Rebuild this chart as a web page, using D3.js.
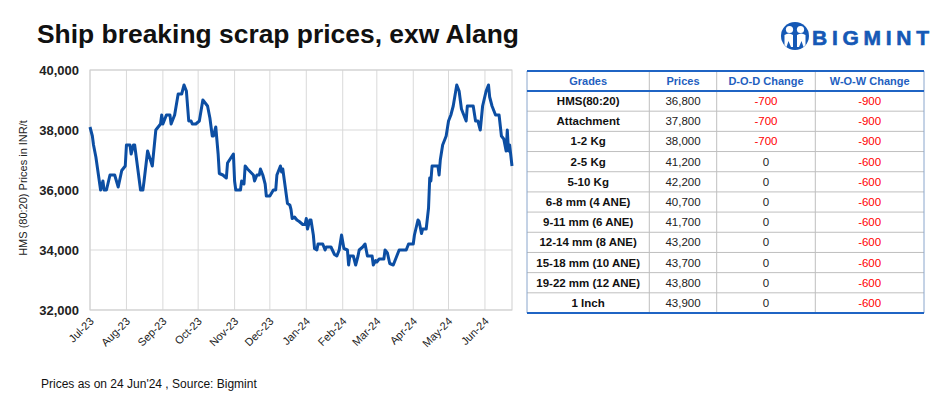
<!DOCTYPE html>
<html><head><meta charset="utf-8">
<script src="https://cdn.jsdelivr.net/npm/d3@7"></script>
<style>
html,body{margin:0;padding:0;background:#fff;}
svg{display:block;font-family:"Liberation Sans",Arial,sans-serif;}
</style></head>
<body><svg id="c" width="934" height="399"></svg>
<script>
const dates = ["2023-07-01","2023-07-03","2023-07-04","2023-07-06","2023-07-10","2023-07-12","2023-07-13","2023-07-15","2023-07-18","2023-07-22","2023-07-25","2023-07-28","2023-07-31",
"2023-08-01","2023-08-04","2023-08-05","2023-08-07","2023-08-08","2023-08-13","2023-08-15","2023-08-16","2023-08-19","2023-08-23","2023-08-26","2023-08-30","2023-08-31",
"2023-09-01","2023-09-04","2023-09-07","2023-09-08","2023-09-11","2023-09-14","2023-09-17","2023-09-19","2023-09-21","2023-09-23","2023-09-25","2023-09-26","2023-09-29",
"2023-10-02","2023-10-05","2023-10-07","2023-10-09","2023-10-11","2023-10-13","2023-10-14","2023-10-16","2023-10-18","2023-10-19","2023-10-22","2023-10-25","2023-10-26","2023-10-31",
"2023-11-01","2023-11-02","2023-11-06","2023-11-07","2023-11-09","2023-11-10","2023-11-12","2023-11-17","2023-11-18","2023-11-20","2023-11-22","2023-11-23","2023-11-25","2023-11-27","2023-11-28",
"2023-12-01","2023-12-04","2023-12-06","2023-12-07","2023-12-10","2023-12-11","2023-12-12","2023-12-16","2023-12-18","2023-12-19","2023-12-20","2023-12-22","2023-12-24","2023-12-26","2023-12-29","2023-12-31",
"2024-01-01","2024-01-02","2024-01-04","2024-01-05","2024-01-07","2024-01-08","2024-01-10","2024-01-11","2024-01-15","2024-01-17","2024-01-18","2024-01-22","2024-01-25","2024-01-27","2024-01-29","2024-01-31",
"2024-02-02","2024-02-05","2024-02-06","2024-02-07","2024-02-10","2024-02-12","2024-02-14","2024-02-15","2024-02-18","2024-02-20","2024-02-22","2024-02-26","2024-02-27","2024-02-29",
"2024-03-01","2024-03-03","2024-03-07","2024-03-08","2024-03-10","2024-03-12","2024-03-15","2024-03-18","2024-03-20","2024-03-26","2024-03-28",
"2024-04-01","2024-04-02","2024-04-05","2024-04-06","2024-04-08","2024-04-09","2024-04-12","2024-04-14","2024-04-15","2024-04-16","2024-04-17","2024-04-22","2024-04-23","2024-04-24","2024-04-26","2024-04-29",
"2024-05-01","2024-05-03","2024-05-05","2024-05-08","2024-05-10","2024-05-12","2024-05-14","2024-05-16","2024-05-17","2024-05-22","2024-05-24","2024-05-26","2024-05-28","2024-05-30",
"2024-06-02","2024-06-04","2024-06-05","2024-06-07","2024-06-10","2024-06-13","2024-06-15","2024-06-17","2024-06-19","2024-06-20","2024-06-21","2024-06-22","2024-06-24"];
const hmsPrices = [38100,37800,37500,37100,36000,36300,36000,36000,36500,36500,36100,36650,36800,
37500,37500,37200,37500,37500,36000,36000,36300,37300,36800,38000,38200,38500,
38200,38500,38500,38200,38500,39200,39200,39500,39300,38300,38300,38200,38200,
38300,39000,38900,38800,38400,37800,37800,38100,37200,36550,36500,36400,36900,37200,
36300,36000,36000,36300,36200,36800,36700,36500,36300,36500,36500,36700,36500,36200,35800,
35800,36000,36000,36500,36800,36600,36700,35550,35500,35350,35050,35100,35000,34950,34850,34850,
35050,34700,35000,35000,34500,34050,34000,34200,34200,34000,34100,34100,33850,33800,34000,34500,
34050,34000,33500,33800,33800,33500,33800,34000,34100,34200,33800,33800,33500,33650,
33600,33700,33700,34000,33900,33550,33500,33800,34000,34000,34200,
34200,34500,35000,34950,34550,34700,34700,35400,36400,36300,36800,36800,36500,37000,37500,37800,
38300,38500,38800,39500,39300,38700,38500,38300,38800,38800,38300,38300,38000,38800,
39300,39500,39100,38800,38500,38500,37800,37700,37300,38000,37300,37500,36800];
const yTicks = [32000,34000,36000,38000,40000];

const tableHeaders = ["Grades","Prices","D-O-D Change","W-O-W Change"];
const grades = ["HMS(80:20)","Attachment","1-2 Kg","2-5 Kg","5-10 Kg","6-8 mm (4 ANE)","9-11 mm (6 ANE)","12-14 mm (8 ANE)","15-18 mm (10 ANE)","19-22 mm (12 ANE)","1 Inch"];
const gradePrices = [36800,37800,38000,41200,42200,40700,41700,43200,43700,43800,43900];
const dodChange = [-700,-700,-700,0,0,0,0,0,0,0,0];
const wowChange = [-900,-900,-900,-600,-600,-600,-600,-600,-600,-600,-600];

const svg = d3.select("#c");
const parse = d3.timeParse("%Y-%m-%d");
const series = dates.map((d,i)=>({date:parse(d), v:hmsPrices[i]}));

const L=90, R=512, T=70, B=310;
const x = d3.scaleTime().domain([parse("2023-07-01"), parse("2024-06-24")]).range([L,R]);
const y = d3.scaleLinear().domain([32000,40000]).range([B,T]);

// Title
svg.append("text").attr("x",37).attr("y",43).attr("font-size",26).attr("font-weight","bold")
  .attr("fill","#111").attr("textLength",482).attr("lengthAdjust","spacingAndGlyphs")
  .text("Ship breaking scrap prices, exw Alang");

// Logo
const logo = svg.append("g").attr("transform","translate(795,36)");
logo.append("circle").attr("cx",0).attr("cy",0).attr("r",14).attr("fill","#1559b6");
logo.append("circle").attr("cx",-5.5).attr("cy",-6.5).attr("r",3.6).attr("fill","#fff");
logo.append("circle").attr("cx",5.5).attr("cy",-6.5).attr("r",3.6).attr("fill","#fff");
logo.append("path").attr("d","M-10.5,-1 Q-6,-4 -2,-1 L-2,11 L-4,11 L-6.5,5 L-8.5,11 L-10.5,9 Z").attr("fill","#fff");
logo.append("path").attr("d","M2,-1 Q6,-4 10.5,-1 L10.5,9 L8.5,11 L6.5,5 L4,11 L2,11 Z").attr("fill","#fff");
svg.append("text").attr("x",812).attr("y",45).attr("font-size",21).attr("font-weight","bold")
  .attr("fill","#1559b6").attr("stroke","#1559b6").attr("stroke-width",0.6)
  .attr("textLength",117).attr("lengthAdjust","spacing").text("BIGMINT");

// Grid
const months = x.ticks(d3.timeMonth.every(1));
svg.append("g").selectAll("line").data(months).join("line")
  .attr("x1",d=>x(d)).attr("x2",d=>x(d)).attr("y1",T).attr("y2",B)
  .attr("stroke","#d9d9d9").attr("stroke-width",1);
svg.append("g").selectAll("line").data(yTicks).join("line")
  .attr("x1",L).attr("x2",R).attr("y1",d=>y(d)).attr("y2",d=>y(d))
  .attr("stroke","#d9d9d9").attr("stroke-width",1);
svg.append("rect").attr("x",L).attr("y",T).attr("width",R-L).attr("height",B-T)
  .attr("fill","none").attr("stroke","#cfcfcf").attr("stroke-width",1);

// Y axis
const yAxis = svg.append("g").attr("transform",`translate(${L},0)`)
  .call(d3.axisLeft(y).tickValues(yTicks).tickFormat(d3.format(",")).tickSize(0).tickPadding(11));
yAxis.select(".domain").remove();
yAxis.selectAll("text").attr("font-size",13).attr("font-weight","bold").attr("fill","#222")
  .attr("font-family","Liberation Sans, Arial, sans-serif");

// X axis
const xAxis = svg.append("g").attr("transform",`translate(0,${B})`)
  .call(d3.axisBottom(x).ticks(d3.timeMonth.every(1)).tickFormat(d3.timeFormat("%b-%y")).tickSize(0));
xAxis.select(".domain").remove();
xAxis.selectAll("text").attr("font-size",11).attr("fill","#222")
  .attr("font-family","Liberation Sans, Arial, sans-serif")
  .attr("text-anchor","end").attr("dy",0).attr("y",0)
  .attr("transform","translate(4,12) rotate(-45)");

// Y title
svg.append("text").attr("transform","translate(27,188) rotate(-90)").attr("text-anchor","middle")
  .attr("font-size",11).attr("fill","#222").text("HMS (80:20) Prices in INR/t");

// Line
svg.append("path").datum(series)
  .attr("d",d3.line().x(d=>x(d.date)).y(d=>y(d.v)))
  .attr("fill","none").attr("stroke","#0c4ea3").attr("stroke-width",3).attr("stroke-linejoin","round");

// Footer
svg.append("text").attr("x",41).attr("y",388).attr("font-size",12).attr("fill","#111")
  .text("Prices as on 24 Jun'24 , Source: Bigmint");

// Table
const colX = [527,649.3,716.7,815.3,924];
const tTop = 71, hdrB = 91, tBot = 313;
const rowH = (tBot-hdrB)/grades.length;
const tg = svg.append("g");
const fmt = d3.format(",");
tg.selectAll("line.r").data(d3.range(1,grades.length)).join("line")
  .attr("x1",colX[0]).attr("x2",colX[4]).attr("y1",i=>hdrB+i*rowH).attr("y2",i=>hdrB+i*rowH)
  .attr("stroke","#bfbfbf").attr("stroke-width",1);
tg.selectAll("line.c").data(colX).join("line")
  .attr("x1",d=>d).attr("x2",d=>d).attr("y1",tTop).attr("y2",tBot)
  .attr("stroke",(d,i)=> (i===0||i===4)?"#8aa6cc":"#bfbfbf").attr("stroke-width",1);
[tTop,hdrB,tBot].forEach(yy=>{
  tg.append("line").attr("x1",colX[0]).attr("x2",colX[4]).attr("y1",yy).attr("y2",yy)
    .attr("stroke","#1f64c4").attr("stroke-width",2);
});
const colC = d3.range(4).map(i=>(colX[i]+colX[i+1])/2);
tg.selectAll("text.h").data(tableHeaders).join("text")
  .attr("x",(d,i)=>colC[i]).attr("y",(tTop+hdrB)/2+4).attr("text-anchor","middle")
  .attr("font-size",11).attr("font-weight","bold").attr("fill","#1f5fbf").text(d=>d);
grades.forEach((g,i)=>{
  const cy = hdrB + (i+0.5)*rowH + 4;
  tg.append("text").attr("x",colC[0]).attr("y",cy).attr("text-anchor","middle")
    .attr("font-size",11.5).attr("font-weight","bold").attr("fill","#111").text(g);
  tg.append("text").attr("x",colC[1]).attr("y",cy).attr("text-anchor","middle")
    .attr("font-size",11.5).attr("fill","#222").text(fmt(gradePrices[i]));
  tg.append("text").attr("x",colC[2]).attr("y",cy).attr("text-anchor","middle")
    .attr("font-size",11.5).attr("fill",dodChange[i]<0?"#ff0000":"#222").text(dodChange[i]);
  tg.append("text").attr("x",colC[3]).attr("y",cy).attr("text-anchor","middle")
    .attr("font-size",11.5).attr("fill",wowChange[i]<0?"#ff0000":"#222").text(wowChange[i]);
});
</script></body></html>
